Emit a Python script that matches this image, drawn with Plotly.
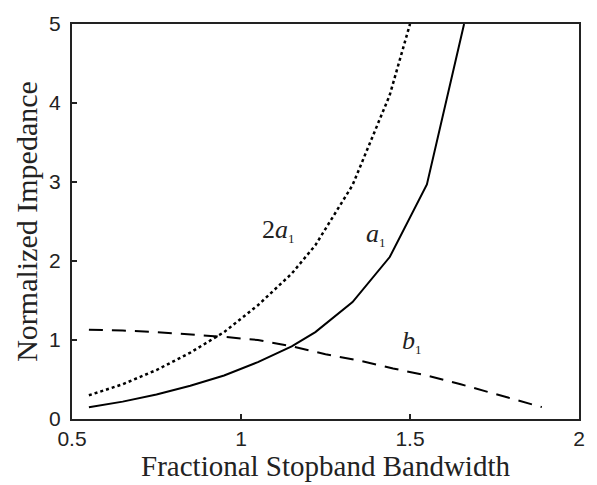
import plotly.graph_objects as go

# a1 curve (solid)
a1_x = [0.55, 0.65, 0.75, 0.85, 0.95, 1.05, 1.15, 1.22, 1.33, 1.44, 1.55, 1.66]
a1_y = [0.15, 0.22, 0.31, 0.42, 0.55, 0.72, 0.92, 1.10, 1.48, 2.05, 2.97, 5.00]

# 2a1 curve (dotted)
a2_x = [0.55, 0.65, 0.75, 0.85, 0.95, 1.05, 1.15, 1.22, 1.33, 1.44, 1.50]
a2_y = [0.30, 0.44, 0.62, 0.84, 1.10, 1.44, 1.84, 2.20, 2.96, 4.10, 5.00]

# b1 curve (dashed)
b1_x = [0.55, 0.65, 0.75, 0.85, 0.95, 1.05, 1.15, 1.25, 1.35, 1.45, 1.55, 1.65, 1.75, 1.89]
b1_y = [1.13, 1.12, 1.10, 1.07, 1.04, 1.00, 0.92, 0.82, 0.74, 0.64, 0.55, 0.44, 0.32, 0.15]

x_ticks = [0.5, 1, 1.5, 2]
x_tick_labels = ["0.5", "1", "1.5", "2"]
y_ticks = [0, 1, 2, 3, 4, 5]

SUB = '<sub><span style="font-size:13px">1</span></sub>'
labels = [
    {"x": 1.112, "y": 2.38, "text": "2<i>a</i>" + SUB},
    {"x": 1.40, "y": 2.33, "text": "<i>a</i>" + SUB},
    {"x": 1.506, "y": 0.98, "text": "<i>b</i>" + SUB},
]

fig = go.Figure()
fig.add_trace(go.Scatter(x=a1_x, y=a1_y, mode="lines",
                         line=dict(color="black", width=2, dash="solid")))
fig.add_trace(go.Scatter(x=a2_x, y=a2_y, mode="lines",
                         line=dict(color="black", width=2.5, dash="dot")))
fig.add_trace(go.Scatter(x=b1_x, y=b1_y, mode="lines",
                         line=dict(color="black", width=2, dash="14px,9px")))

for lb in labels:
    fig.add_annotation(x=lb["x"], y=lb["y"], text=lb["text"], showarrow=False,
                       font=dict(family="Liberation Serif", size=26, color="#222"))

axis_common = dict(showgrid=False, zeroline=False, showline=True, linecolor="#222",
                   linewidth=2, mirror=True, ticks="inside", ticklen=5, tickwidth=1.5,
                   tickcolor="#222",
                   tickfont=dict(family="Liberation Sans", size=21, color="#222"))

fig.update_xaxes(range=[0.5, 2], tickvals=x_ticks, ticktext=x_tick_labels,
                 title=dict(text="Fractional Stopband Bandwidth", standoff=2,
                            font=dict(family="Liberation Serif", size=29, color="#222")),
                 **axis_common)
fig.update_yaxes(range=[0, 5], tickvals=y_ticks, ticklabelstandoff=5,
                 title=dict(text="Normalized Impedance", standoff=3,
                            font=dict(family="Liberation Serif", size=30, color="#222")),
                 **axis_common)

fig.update_layout(width=597, height=485, showlegend=False,
                  margin=dict(l=72, r=15, t=17, b=66),
                  plot_bgcolor="white", paper_bgcolor="white")

fig.write_html("out.html")
